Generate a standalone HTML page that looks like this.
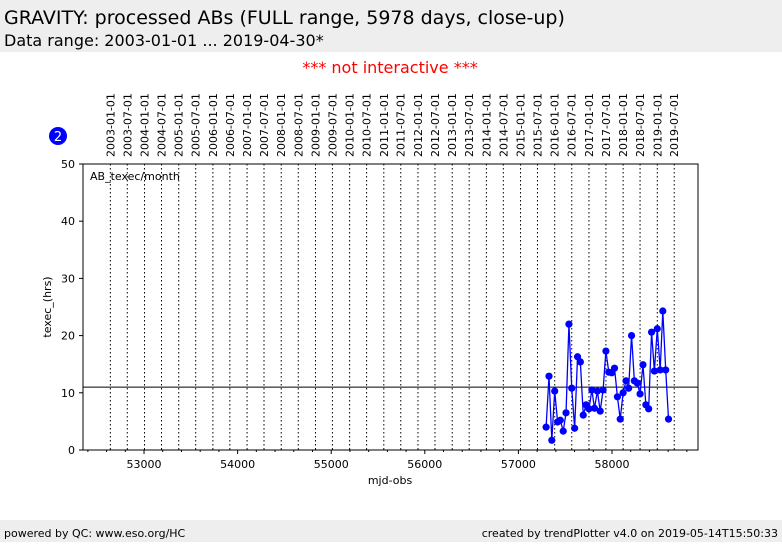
<!DOCTYPE html>
<html><head><meta charset="utf-8"><style>
body{margin:0;width:782px;height:542px;overflow:hidden;background:#fff;font-family:"DejaVu Sans","Liberation Sans",sans-serif;}
svg text{font-family:"DejaVu Sans","Liberation Sans",sans-serif;}
</style></head><body>
<svg id="c" width="782" height="542" xmlns="http://www.w3.org/2000/svg">
<rect x="0" y="0" width="782" height="52" fill="#eeeeee"/>
<text x="4" y="24" font-size="19" fill="#000">GRAVITY: processed ABs (FULL range, 5978 days, close-up)</text>
<text x="4" y="46" font-size="16" fill="#000">Data range: 2003-01-01 ... 2019-04-30*</text>
<text x="390" y="73" font-size="16" fill="#ff0000" text-anchor="middle">*** not interactive ***</text>
<circle cx="58" cy="136" r="9" fill="#0000ff"/>
<text x="58" y="141" font-size="13" fill="#fff" text-anchor="middle">2</text>
<rect x="0" y="520" width="782" height="22" fill="#eeeeee"/>
<text x="4" y="537" font-size="11" fill="#000">powered by QC: www.eso.org/HC</text>
<text x="778" y="537" font-size="11" fill="#000" text-anchor="end">created by trendPlotter v4.0 on 2019-05-14T15:50:33</text>
<g id="g"></g>
</svg>
<script>
const months = ["2015-10","2015-11","2015-12","2016-01","2016-02","2016-03","2016-04","2016-05","2016-06","2016-07","2016-08","2016-09","2016-10","2016-11","2016-12","2017-01","2017-02","2017-03","2017-04","2017-05","2017-06","2017-07","2017-08","2017-09","2017-10","2017-11","2017-12","2018-01","2018-02","2018-03","2018-04","2018-05","2018-06","2018-07","2018-08","2018-09","2018-10","2018-11","2018-12","2019-01","2019-02","2019-03","2019-04","2019-05"];
const texec = [4.0,12.9,1.7,10.3,4.9,5.2,3.3,6.5,22.0,10.8,3.8,16.3,15.4,6.1,7.9,7.2,10.5,7.3,10.3,6.8,10.5,17.3,13.6,13.5,14.3,9.3,5.4,10.0,12.1,10.8,20.0,12.1,11.7,9.8,14.9,7.9,7.2,20.6,13.8,21.2,14.0,24.3,14.0,5.4];
const refLine = 11.0;
const yTicks = [0,10,20,30,40,50];
const xTicks = [53000,54000,55000,56000,57000,58000];
const L=83,R=698,T=164,B=450, X0=52348, X1=58919, Y0=0, Y1=50;
const xs=v=>L+(v-X0)/(X1-X0)*(R-L);
const ys=v=>B-(v-Y0)/(Y1-Y0)*(B-T);
const mjd=s=>{const p=s.split('-').map(Number);return Date.UTC(p[0],p[1]-1,p[2]||1)/86400000+40587;};
const NS="http://www.w3.org/2000/svg", g=document.getElementById('g');
function mk(t,a,txt){const e=document.createElementNS(NS,t);for(const k in a)e.setAttribute(k,a[k]);if(txt!=null)e.textContent=txt;g.appendChild(e);return e;}
// date grid lines
for(let y=2003;y<=2019;y++)for(const m of [1,7]){
  const d=y+'-'+(m<10?'0'+m:m)+'-01', x=xs(mjd(d));
  let e=mk('line',{x1:x,x2:x,y1:T,y2:B,stroke:'#000','stroke-width':1,'stroke-dasharray':'1.5,2.5'});
  
  
  e=mk('text',{x:0,y:0,'font-size':11,transform:`translate(${x+4},157) rotate(-90)`},d);
  
  
}
let e=mk('rect',{x:L,y:T,width:R-L,height:B-T,fill:'none',stroke:'#000','stroke-width':1});


for(const v of yTicks){const y=ys(v);
  e=mk('line',{x1:L-4,x2:L,y1:y,y2:y,stroke:'#000'});
  
  
  e=mk('text',{x:L-8,y:y+4,'font-size':11,'text-anchor':'end'},v);
  
  
}
for(let v=52400;v<=58900;v+=200){const x=xs(v),maj=v%1000===0;
  e=mk('line',{x1:x,x2:x,y1:B,y2:B+(maj?4:2),stroke:'#000'});
  
  
}
for(const v of xTicks){
  e=mk('text',{x:xs(v),y:B+18,'font-size':11,'text-anchor':'middle'},v);
  
  
}
e=mk('text',{x:390,y:484,'font-size':11,'text-anchor':'middle'},'mjd-obs');


e=mk('text',{x:0,y:0,'font-size':11,'text-anchor':'middle',transform:`translate(51,${(T+B)/2}) rotate(-90)`},'texec_(hrs)');


e=mk('text',{x:90,y:180,'font-size':11},'AB_texec/month');


e=mk('line',{x1:L,x2:R,y1:ys(refLine),y2:ys(refLine),stroke:'#000','stroke-width':1});


const pts=months.map((m,i)=>xs(mjd(m+'-01'))+','+ys(texec[i])).join(' ');
e=mk('polyline',{points:pts,fill:'none',stroke:'#0000ff','stroke-width':1.3});


months.forEach((m,i)=>{
  const c=mk('circle',{cx:xs(mjd(m+'-01')),cy:ys(texec[i]),r:3.6,fill:'#0000ff'});
  
  
});
</script>
</body></html>
